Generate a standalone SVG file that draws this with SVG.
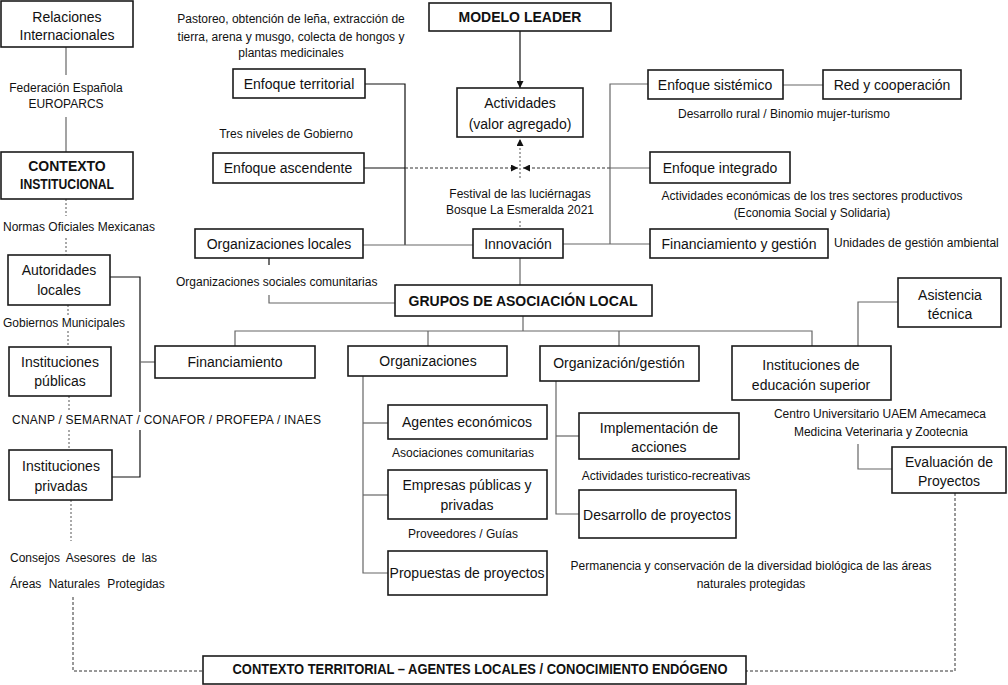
<svg xmlns="http://www.w3.org/2000/svg" width="1008" height="685" viewBox="0 0 1008 685">
<style>
.box{fill:#fff;stroke:#1b1b1b;stroke-width:1.6}
text{font-family:"Liberation Sans",Arial,sans-serif;fill:#111}
.t{font-size:14px;text-anchor:middle}
.a{font-size:12px;text-anchor:middle}
.s{font-size:12px;text-anchor:start}
.b{font-weight:bold}
.ln{stroke:#666;stroke-width:1.2;fill:none}
.lk{stroke:#111;stroke-width:1.2;fill:none}
.dot{stroke:#555;stroke-width:1;stroke-dasharray:2 2;fill:none}
.dash{stroke:#333;stroke-width:1;stroke-dasharray:3 2;fill:none}
</style>
<defs>
<marker id="arr" viewBox="0 0 10 10" refX="10" refY="5" markerWidth="7" markerHeight="7" markerUnits="userSpaceOnUse" orient="auto">
<path d="M0,0 L10,5 L0,10 z" fill="#111"/>
</marker>
</defs>
<rect width="1008" height="685" fill="#fff"/>

<g id="connectors">
<line class="ln" x1="66" y1="47" x2="66" y2="75"/>
<line class="ln" x1="66" y1="117" x2="66" y2="152"/>
<line class="dot" x1="66" y1="199" x2="66" y2="216"/>
<line class="dot" x1="66" y1="238" x2="66" y2="255"/>
<line class="dot" x1="68" y1="305" x2="68" y2="316"/>
<line class="dot" x1="68" y1="331" x2="68" y2="347"/>
<line class="dot" x1="69" y1="396" x2="69" y2="411"/>
<line class="dot" x1="69" y1="430" x2="69" y2="448"/>
<line class="dot" x1="71" y1="500" x2="71" y2="541"/>
<polyline class="dash" points="73,597 73,671 203,671"/>
<polyline class="dash" points="955,493 955,671 746,671"/>
<polyline class="lk" points="110,277 140,277 140,412"/>
<polyline class="lk" points="140,430 140,477 112,477"/>
<line class="ln" x1="140" y1="362" x2="155" y2="362"/>
<polyline class="lk" points="365,84 405,84 405,245"/>
<line class="ln" x1="363" y1="245" x2="473" y2="245"/>
<line class="lk" x1="364" y1="168" x2="405" y2="168"/>
<line class="dash" x1="405" y1="168" x2="518" y2="168" marker-end="url(#arr)"/>
<line class="ln" x1="650" y1="168" x2="610" y2="168"/>
<line class="dash" x1="610" y1="168" x2="523" y2="168" marker-end="url(#arr)"/>
<line class="dot" x1="520" y1="178" x2="520" y2="139" marker-end="url(#arr)"/>
<line class="dot" x1="520" y1="221" x2="520" y2="229"/>
<line class="lk" x1="520" y1="31" x2="520" y2="88" marker-end="url(#arr)"/>
<polyline class="ln" points="648,84 610,84 610,244"/>
<line class="ln" x1="563" y1="244" x2="650" y2="244"/>
<line class="ln" x1="783" y1="85" x2="823" y2="85"/>
<line class="ln" x1="520" y1="258" x2="520" y2="285"/>
<line class="lk" x1="269" y1="258" x2="269" y2="265"/>
<polyline class="ln" points="269,295 269,303 395,303"/>
<line class="ln" x1="523" y1="316" x2="523" y2="331"/>
<polyline class="ln" points="235,346 235,331 812,331 812,346"/>
<line class="ln" x1="428" y1="331" x2="428" y2="346"/>
<line class="ln" x1="619" y1="331" x2="619" y2="346"/>
<polyline class="ln" points="363,376 363,573 388,573"/>
<line class="ln" x1="363" y1="423" x2="388" y2="423"/>
<line class="ln" x1="363" y1="495" x2="388" y2="495"/>
<polyline class="ln" points="556,381 556,514 579,514"/>
<line class="ln" x1="556" y1="436" x2="579" y2="436"/>
<polyline class="ln" points="858,346 858,302 898,302"/>
<polyline class="ln" points="858,444 858,469 892,469"/>
</g>

<g id="rel"><rect class="box" x="1" y="1" width="132" height="46"/><text class="t" x="67" y="22">Relaciones</text><text class="t" x="67" y="40">Internacionales</text></g>
<g id="ctx"><rect class="box" x="1" y="152" width="132" height="47"/><text class="t b" x="67" y="171" font-size="13">CONTEXTO</text><text class="t b" x="67" y="189" font-size="13" textLength="94" lengthAdjust="spacingAndGlyphs">INSTITUCIONAL</text></g>
<g id="aut"><rect class="box" x="8" y="255" width="102" height="50"/><text class="t" x="59" y="275">Autoridades</text><text class="t" x="59" y="295">locales</text></g>
<g id="pub"><rect class="box" x="9" y="347" width="102" height="49"/><text class="t" x="60" y="367">Instituciones</text><text class="t" x="60" y="386">públicas</text></g>
<g id="priv"><rect class="box" x="9" y="450" width="103" height="50"/><text class="t" x="61" y="471">Instituciones</text><text class="t" x="61" y="491">privadas</text></g>
<g id="modelo"><rect class="box" x="429" y="3" width="182" height="28"/><text class="t b" x="520" y="22">MODELO LEADER</text></g>
<g id="act"><rect class="box" x="457" y="88" width="126" height="49"/><text class="t" x="520" y="108">Actividades</text><text class="t" x="520" y="129">(valor agregado)</text></g>
<g id="terr"><rect class="box" x="233" y="69" width="132" height="29"/><text class="t" x="299" y="89">Enfoque territorial</text></g>
<g id="asc"><rect class="box" x="213" y="153" width="151" height="30"/><text class="t" x="288" y="173">Enfoque ascendente</text></g>
<g id="orgloc"><rect class="box" x="195" y="229" width="168" height="29"/><text class="t" x="279" y="249">Organizaciones locales</text></g>
<g id="innov"><rect class="box" x="473" y="229" width="90" height="29"/><text class="t" x="518" y="249">Innovación</text></g>
<g id="sist"><rect class="box" x="648" y="70" width="135" height="29"/><text class="t" x="715" y="90">Enfoque sistémico</text></g>
<g id="red"><rect class="box" x="823" y="70" width="138" height="29"/><text class="t" x="892" y="90">Red y cooperación</text></g>
<g id="integ"><rect class="box" x="650" y="152" width="140" height="31"/><text class="t" x="720" y="173">Enfoque integrado</text></g>
<g id="fing"><rect class="box" x="650" y="229" width="178" height="29"/><text class="t" x="739" y="249">Financiamiento y gestión</text></g>
<g id="grupos"><rect class="box" x="395" y="285" width="257" height="31"/><text class="t b" x="523" y="306">GRUPOS DE ASOCIACIÓN LOCAL</text></g>
<g id="fin"><rect class="box" x="155" y="346" width="160" height="32"/><text class="t" x="235" y="367">Financiamiento</text></g>
<g id="orgs"><rect class="box" x="348" y="346" width="159" height="30"/><text class="t" x="428" y="366">Organizaciones</text></g>
<g id="orgg"><rect class="box" x="540" y="346" width="159" height="35"/><text class="t" x="619" y="368">Organización/gestión</text></g>
<g id="ies"><rect class="box" x="732" y="346" width="159" height="54"/><text class="t" x="811" y="370">Instituciones de</text><text class="t" x="811" y="390">educación superior</text></g>
<g id="asis"><rect class="box" x="898" y="278" width="103" height="49"/><text class="t" x="950" y="300">Asistencia</text><text class="t" x="950" y="319">técnica</text></g>
<g id="eval"><rect class="box" x="892" y="447" width="114" height="46"/><text class="t" x="949" y="467">Evaluación de</text><text class="t" x="949" y="486">Proyectos</text></g>
<g id="agentes"><rect class="box" x="388" y="405" width="159" height="34"/><text class="t" x="467" y="427">Agentes económicos</text></g>
<g id="empresas"><rect class="box" x="388" y="470" width="159" height="49"/><text class="t" x="467" y="490">Empresas públicas y</text><text class="t" x="467" y="510">privadas</text></g>
<g id="propuestas"><rect class="box" x="388" y="551" width="159" height="44"/><text class="t" x="467" y="578">Propuestas de proyectos</text></g>
<g id="impl"><rect class="box" x="579" y="413" width="160" height="46"/><text class="t" x="659" y="433">Implementación de</text><text class="t" x="659" y="452">acciones</text></g>
<g id="desa"><rect class="box" x="579" y="490" width="157" height="48"/><text class="t" x="657" y="520">Desarrollo de proyectos</text></g>
<g id="territorial"><rect class="box" x="203" y="656" width="543" height="28"/><text class="t b" x="480" y="674" font-size="12.5" textLength="495" lengthAdjust="spacingAndGlyphs">CONTEXTO TERRITORIAL – AGENTES LOCALES / CONOCIMIENTO ENDÓGENO</text></g>

<g id="labels">
<text class="a" x="291" y="23">Pastoreo, obtención de leña, extracción de</text>
<text class="a" x="291" y="41">tierra, arena y musgo, colecta de hongos y</text>
<text class="a" x="291" y="57">plantas medicinales</text>
<text class="a" x="286" y="138">Tres niveles de Gobierno</text>
<text class="a" x="66" y="92">Federación Española</text>
<text class="a" x="66" y="108">EUROPARCS</text>
<text class="s" x="3" y="231">Normas Oficiales Mexicanas</text>
<text class="s" x="3" y="327">Gobiernos Municipales</text>
<text class="s" x="12" y="424" textLength="309">CNANP / SEMARNAT / CONAFOR / PROFEPA / INAES</text>
<text class="s" x="10" y="562" word-spacing="3">Consejos Asesores de las</text>
<text class="s" x="10" y="588" word-spacing="4">Áreas Naturales Protegidas</text>
<text class="a" x="520" y="198">Festival de las luciérnagas</text>
<text class="a" x="520" y="214">Bosque La Esmeralda 2021</text>
<text class="s" x="176" y="286">Organizaciones sociales comunitarias</text>
<text class="a" x="784" y="118">Desarrollo rural / Binomio mujer-turismo</text>
<text class="a" x="812" y="200">Actividades económicas de los tres sectores productivos</text>
<text class="a" x="812" y="217">(Economia Social y Solidaria)</text>
<text class="s" x="834" y="247">Unidades de gestión ambiental</text>
<text class="a" x="880" y="418" textLength="212">Centro Universitario UAEM Amecameca</text>
<text class="a" x="881" y="436">Medicina Veterinaria y Zootecnia</text>
<text class="a" x="463" y="457">Asociaciones comunitarias</text>
<text class="a" x="463" y="538">Proveedores / Guías</text>
<text class="a" x="666" y="480">Actividades turistico-recreativas</text>
<text class="a" x="751" y="570">Permanencia y conservación de la diversidad biológica de las áreas</text>
<text class="a" x="751" y="588">naturales protegidas</text>
</g>
</svg>
